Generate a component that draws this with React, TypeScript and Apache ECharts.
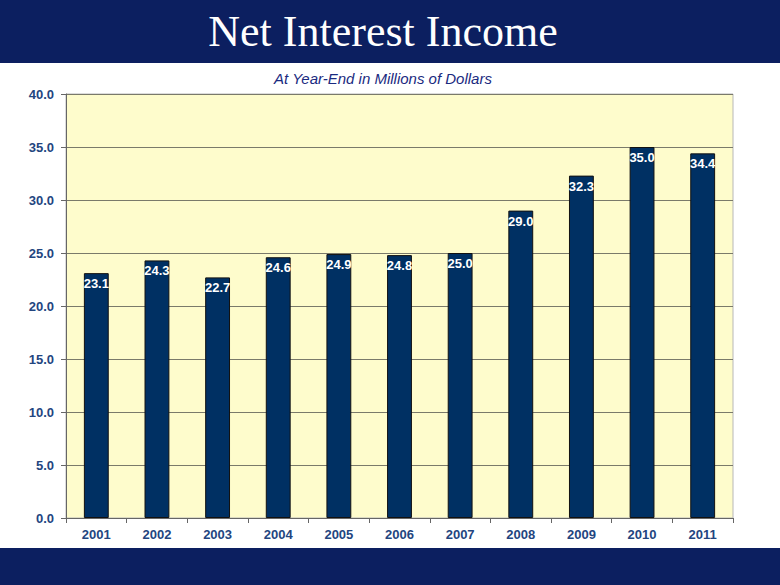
import React, { useEffect, useRef } from "react";
import * as echarts from "echarts";

const years = ["2001", "2002", "2003", "2004", "2005", "2006", "2007", "2008", "2009", "2010", "2011"];
const income = [23.1, 24.3, 22.7, 24.6, 24.9, 24.8, 25.0, 29.0, 32.3, 35.0, 34.4];
const titleText = "Net Interest Income";
const subtitleText = "At Year-End in Millions of Dollars";

export default function App() {
  const ref = useRef<HTMLDivElement>(null);
  useEffect(() => {
    if (!ref.current) return;
    const chart = echarts.init(ref.current, undefined, { renderer: "svg" });
    const navy = "#0c1f60";
    const tickColor = "#23457f";
    chart.setOption({
      animation: false,
      backgroundColor: "#ffffff",
      graphic: [
        { type: "rect", shape: { x: 0, y: 0, width: 780, height: 63 }, style: { fill: navy } },
        { type: "rect", shape: { x: 0, y: 548, width: 780, height: 37 }, style: { fill: navy } },
        {
          type: "text",
          x: 383,
          y: 31,
          style: {
            text: titleText,
            fill: "#ffffff",
            font: "44px 'Liberation Serif', 'Times New Roman', serif",
            align: "center",
            verticalAlign: "middle",
          },
        },
        {
          type: "text",
          x: 383,
          y: 78,
          style: {
            text: subtitleText,
            fill: "#1a2a80",
            font: "italic 15px 'Liberation Sans', Arial, sans-serif",
            align: "center",
            verticalAlign: "middle",
          },
        },
      ],
      grid: {
        left: 66,
        right: 47,
        top: 94,
        bottom: 67,
        show: true,
        backgroundColor: "#fefccc",
        borderColor: "#b8b8b8",
        borderWidth: 1,
      },
      xAxis: {
        type: "category",
        data: years,
        axisLine: { show: true, lineStyle: { color: "#666666", width: 1 } },
        axisTick: { show: true, alignWithLabel: false, length: 5, lineStyle: { color: "#666666" } },
        axisLabel: {
          color: tickColor,
          fontWeight: "bold",
          fontSize: 13,
          fontFamily: "'Liberation Sans', Arial, sans-serif",
          margin: 10,
        },
      },
      yAxis: {
        type: "value",
        min: 0,
        max: 40,
        interval: 5,
        axisLine: { show: true, lineStyle: { color: "#666666", width: 1 } },
        axisTick: { show: true, length: 5, lineStyle: { color: "#666666" } },
        splitLine: { show: true, lineStyle: { color: "#7a7a6a", width: 1 } },
        axisLabel: {
          color: tickColor,
          fontWeight: "bold",
          fontSize: 13,
          fontFamily: "'Liberation Sans', Arial, sans-serif",
          margin: 12,
          formatter: (v: number) => v.toFixed(1),
        },
      },
      series: [
        {
          type: "bar",
          data: income,
          barWidth: "41%",
          itemStyle: { color: "#003063", borderColor: "#111111", borderWidth: 1 },
          label: {
            show: true,
            position: "insideTop",
            distance: 4,
            color: "#ffffff",
            fontWeight: "bold",
            fontSize: 13,
            fontFamily: "'Liberation Sans', Arial, sans-serif",
            formatter: (p: any) => Number(p.value).toFixed(1),
          },
        },
      ],
    });
    return () => chart.dispose();
  }, []);
  return (
    <div
      ref={ref}
      style={{ position: "absolute", left: 0, top: 0, width: 780, height: 585 }}
    />
  );
}
